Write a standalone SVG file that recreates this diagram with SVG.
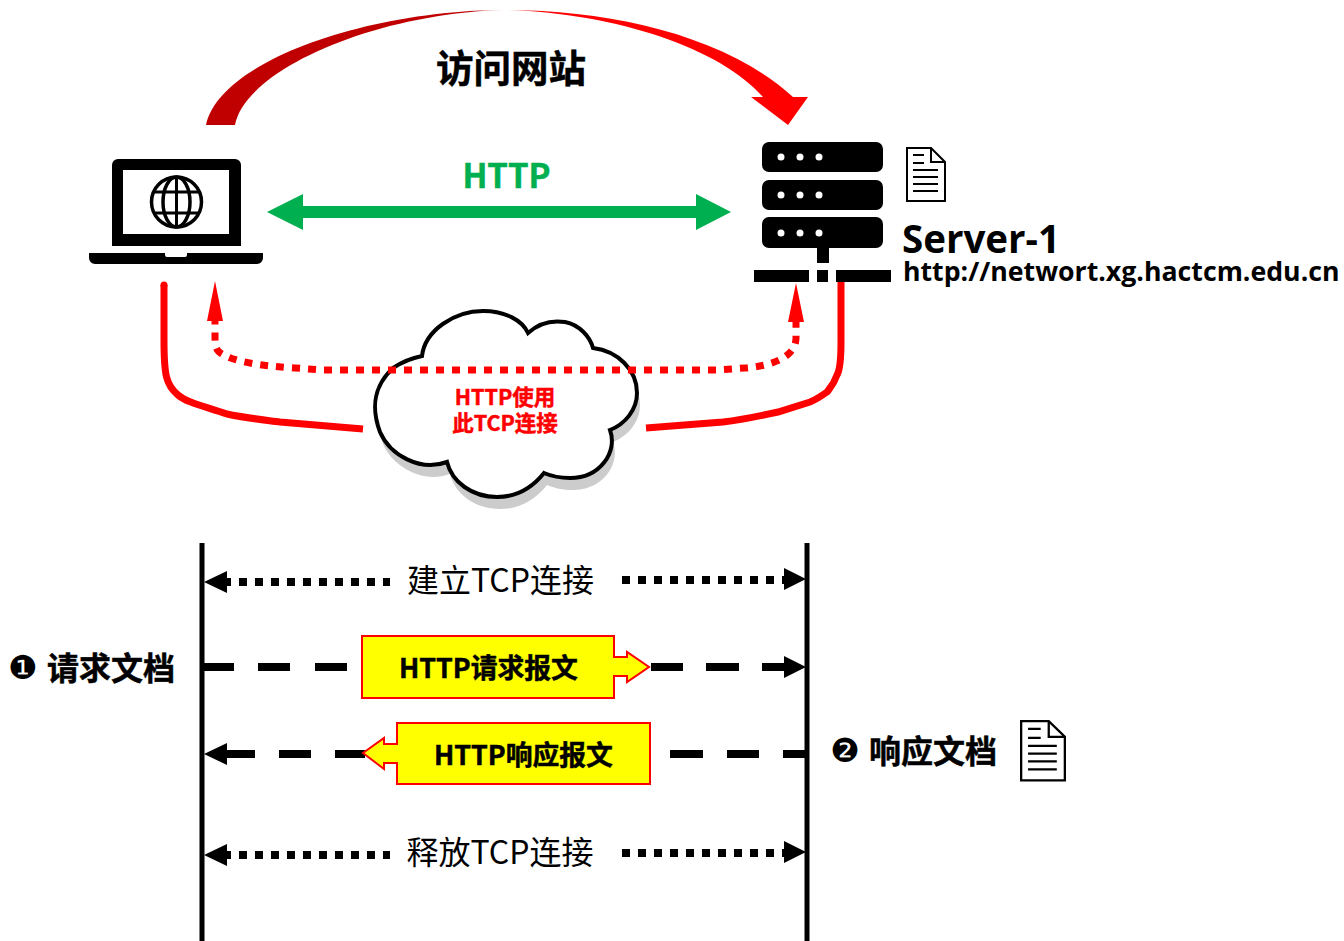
<svg xmlns="http://www.w3.org/2000/svg" width="1344" height="941" viewBox="0 0 1344 941">
<defs>
<linearGradient id="sw" gradientUnits="userSpaceOnUse" x1="206" y1="0" x2="808" y2="0">
<stop offset="0" stop-color="#c00000"/><stop offset="0.44" stop-color="#c00000"/><stop offset="0.495" stop-color="#ffd8d8"/><stop offset="0.55" stop-color="#ff0000"/><stop offset="1" stop-color="#ff0000"/>
</linearGradient>
<path id="cl" d="M422 356C425 330 455 311 483 311C505 311 522 320 528 333C540 322 552 320 565 322C580 325 590 337 593 348C618 351 637 370 637 393C637 410 625 424 610 430C618 452 600 478 570 478C560 478 551 476 544 473C532 488 517 497 497 497C472 497 452 482 447 462C420 472 390 455 380 432C370 405 375 385 393 368C402 362 412 358 422 356Z"/>
<g id="doc"><path d="M1 1H25L39 15V54H1Z M25 1V15H39" fill="#fff" stroke="#000" stroke-width="2"/><path d="M7 8H18M7 16H18M7 23H32M7 30H32M7 37H32M7 44H32" stroke="#000" stroke-width="2" fill="none"/></g>
</defs>
<style>
.zh{font-family:"Noto Sans CJK SC","Liberation Sans",sans-serif}
.b{font-weight:700;stroke:currentColor;stroke-width:.5}
.os{font-family:"Open Sans","Noto Sans",sans-serif;font-weight:700}
.sq{stroke:#000;fill:none;stroke-width:8}
.dot{stroke-dasharray:8 8}
.rd{stroke:#f00;fill:none;stroke-width:7}
.tiph{fill:#000}
.box{fill:#ff0;stroke:#f00;stroke-width:2}
.num{font-family:"DejaVu Sans",sans-serif;font-size:33px}
</style>
<g id="cloud">
<use href="#cl" transform="translate(3 12)" fill="#ccc"/>
<use href="#cl" fill="#fff" stroke="#000" stroke-width="4"/>
</g>
<g id="connectors">
<path d="M206 125C220 60 370 10 505 10C610 10 725 35 793 97H808L788 125L751 97H763C720 48 615 13 505 10C375 13 245 70 235 125Z" fill="url(#sw)"/>
<path d="M267 212L303 194V206H696V194L731 212L696 230V218H303V230Z" fill="#00b050"/>
<path class="rd" d="M164 285V340C164 375 166 385 178 395C186 402 200 405 227 414C245 418 265 420 280 422L363 429"/>
<circle cx="164" cy="285" r="3.500" fill="#f00"/>
<path class="rd" d="M841 282V342C841 360 840 370 837 375C834 384 830 388 827 392C820 397 815 400 810 402L778 412C760 416 740 420 723 422L646 428"/>
<path class="rd dot" d="M324 370H716"/>
<path class="rd dot" stroke-dashoffset="8" d="M324 370L295 368C262 366 235 362 222 354C215 350 215 345 215 335V321"/>
<path class="rd dot" stroke-dashoffset="8" d="M716 370L745 368C770 366 796 358 796 338V322"/>
<path d="M215 281L223 321H207ZM796 283L804 322H788Z" fill="#f00"/>
<path d="M202 543V941M807 543V941" stroke="#000" stroke-width="5" fill="none"/>
<path class="sq dot" d="M223 582H390"/>
<path class="sq dot" d="M622 580H786"/>
<path class="sq dot" d="M223 855H390"/>
<path class="sq dot" d="M622 853H786"/>
<path class="sq" d="M204 667H234M258 667H290M315 667H347M651 667H683M706 667H739M762 667H786"/>
<path class="sq" d="M226 754H255M279 754H311M335 754H365M670 754H703M727 754H759M783 754H806"/>
<path class="tiph" d="M204 582L227 571V593ZM806 579L784 568V590ZM806 667L784 656V678ZM204 754L227 743V765ZM204 855L227 844V866ZM806 852L784 841V863Z"/>
</g>
<g id="cloud-label">
<text class="zh b" x="505" y="405" font-size="21.500" fill="#f00" color="#f00" text-anchor="middle">HTTP使用</text>
<text class="zh b" x="505" y="431" font-size="21.500" fill="#f00" color="#f00" text-anchor="middle">此TCP连接</text>
</g>
<g id="laptop">
<path d="M112 165a6 6 0 0 1 6-6H235a6 6 0 0 1 6 6V246H112Z" fill="#000"/>
<rect x="123" y="170" width="106" height="64" fill="#fff"/>
<g fill="none" stroke="#000" stroke-width="3.500"><circle cx="176.500" cy="202" r="25"/><ellipse cx="176.500" cy="202" rx="13.500" ry="25"/><path d="M176.500 177V227M153 192H200M153 213H200" stroke-width="3"/></g>
<path d="M89 253H165V255Q165 257 167 257H185Q187 257 187 255V253H263V258a6 6 0 0 1-6 6H95a6 6 0 0 1-6-6Z" fill="#000"/>
</g>
<g id="server">
<rect x="762" y="142" width="121" height="30" rx="7"/><rect x="762" y="180" width="121" height="30" rx="7"/><rect x="762" y="217" width="121" height="31" rx="7"/>
<rect x="817" y="248" width="12" height="15"/><rect x="754" y="270" width="55" height="12"/><rect x="817" y="270" width="11" height="12"/><rect x="836" y="270" width="55" height="12"/>
<g fill="#fff"><circle cx="781" cy="157" r="3.500"/><circle cx="800" cy="157" r="3.500"/><circle cx="819" cy="157" r="3.500"/><circle cx="781" cy="195" r="3.500"/><circle cx="800" cy="195" r="3.500"/><circle cx="819" cy="195" r="3.500"/><circle cx="781" cy="233" r="3.500"/><circle cx="800" cy="233" r="3.500"/><circle cx="819" cy="233" r="3.500"/></g>
</g>
<use id="doc1" href="#doc" transform="translate(906 147)"/>
<use id="doc2" href="#doc" transform="translate(1020 720) scale(1.150 1.120)"/>
<text class="zh b" x="511" y="82" font-size="37.500" text-anchor="middle">访问网站</text>
<text class="zh b" x="506.500" y="188" font-size="33" fill="#00b050" color="#00b050" text-anchor="middle">HTTP</text>
<text class="os" x="902" y="253" font-size="38.500">Server-1</text>
<text class="os" x="903" y="281" font-size="26.700">http://networt.xg.hactcm.edu.cn</text>
<text class="zh" x="500.500" y="592" font-size="32" text-anchor="middle">建立TCP连接</text>
<text class="zh" x="500" y="864" font-size="32" text-anchor="middle">释放TCP连接</text>
<g id="req"><path class="box" d="M362 636H614V657H627V652L649 667L627 682V676H614V698H362Z"/><text class="zh b" x="488.500" y="678" font-size="26.800" text-anchor="middle">HTTP请求报文</text></g>
<g id="resp"><path class="box" d="M397 723H650V784H397V763H384V769L363 753L384 738V744H397Z"/><text class="zh b" x="523.500" y="765" font-size="26.800" text-anchor="middle">HTTP响应报文</text></g>
<g id="l1"><text class="num" x="23" y="679" text-anchor="middle">❶</text><text class="zh b" x="47" y="680" font-size="32">请求文档</text></g>
<g id="l2"><text class="num" x="845" y="762" text-anchor="middle">❷</text><text class="zh b" x="869" y="763" font-size="32">响应文档</text></g>
</svg>
